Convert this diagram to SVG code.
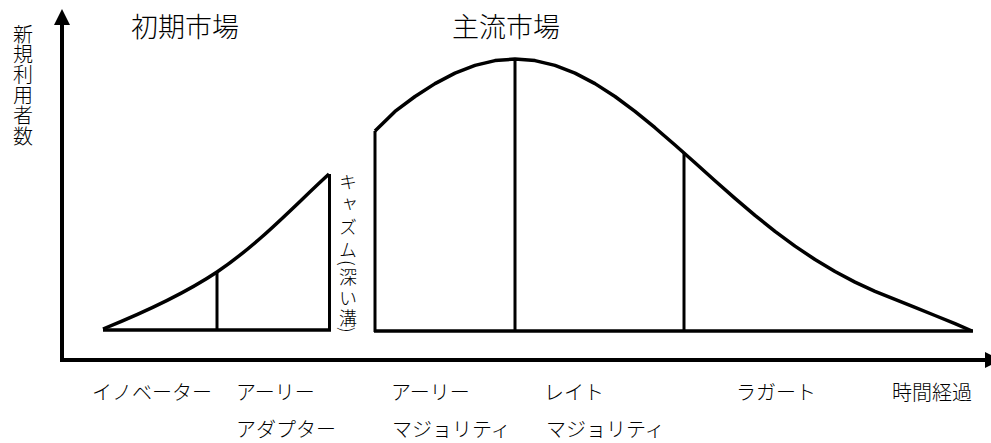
<svg xmlns="http://www.w3.org/2000/svg" width="991" height="443" viewBox="0 0 991 443">
<style>
.ln{fill:none;stroke:#000;stroke-width:3.5;stroke-linejoin:round;stroke-linecap:butt}
.vl{fill:none;stroke:#000;stroke-width:3}
.ax{fill:none;stroke:#000;stroke-width:4}
.t{font-family:"Noto Sans CJK JP","Noto Sans",sans-serif;font-size:20px;font-weight:300;fill:#000}
.h{font-family:"Noto Sans CJK JP","Noto Sans",sans-serif;font-size:27px;font-weight:300;fill:#000}
.c{font-family:"Noto Sans CJK JP","Noto Sans",sans-serif;font-size:18px;font-weight:300;fill:#000}
.v{writing-mode:tb}
</style>
<rect width="991" height="443" fill="#fff"/>
<g id="connectors">
  <line class="ax" x1="62" y1="362" x2="62" y2="23"/>
  <polygon points="62,9 54,25 70,25" fill="#000"/>
  <line class="ax" x1="60" y1="360" x2="987" y2="360"/>
  <polygon points="985,352 985,368 1001,360" fill="#000"/>
</g>
<g id="early-market">
  <path class="ln" d="M103,329 C150,310 190,290 217,272 C260,243 295,205 329,174"/>
  <line class="ln" x1="103" y1="330" x2="331" y2="330"/>
  <line class="vl" x1="217" y1="272" x2="217" y2="330"/>
  <line class="vl" x1="329.5" y1="174" x2="329.5" y2="331"/>
</g>
<g id="mainstream-market">
  <path class="ln" d="M375,131 L395,111.4 L415,96.5 L435,83.6 L455,73.1 L475,65.4 L495,60.6 L515,59 L535,60.6 L555,65.4 L575,73.1 L595,83.6 L615,96.5 L635,111.4 L655,127.7 L675,145 L695,162.8 L715,180.8 L735,198.4 L755,215.3 L775,231.3 L795,246.1 L815,259.5 L835,271.5 L855,282.1 L875,291.3 L895,299.4 L915,307.4 L935,315.5 L955,323.6 L972,331"/>
  <line class="ln" x1="374" y1="331" x2="973" y2="331"/>
  <line class="vl" x1="375" y1="131" x2="375" y2="332"/>
  <line class="vl" x1="515" y1="59" x2="515" y2="332"/>
  <line class="vl" x1="684" y1="153" x2="684" y2="332"/>
</g>
<g id="y-label">
  <text class="t v" x="23" y="24">新</text>
  <text class="t v" x="23" y="44.4">規</text>
  <text class="t v" x="23" y="64.8">利</text>
  <text class="t v" x="23" y="85.2">用</text>
  <text class="t v" x="23" y="105.6">者</text>
  <text class="t v" x="23" y="126">数</text>
</g>
<g id="title-early"><text class="h" x="131" y="37">初期市場</text></g>
<g id="title-mainstream"><text class="h" x="452" y="37">主流市場</text></g>
<g id="chasm">
  <text class="c v" x="348" y="173">キ</text>
  <text class="c v" x="348" y="195">ャ</text>
  <text class="c v" x="348" y="218">ズ</text>
  <text class="c v" x="348" y="241">ム</text>
  <text class="c v" x="348" y="260">(</text>
  <text class="c v" x="348" y="268">深</text>
  <text class="c v" x="348" y="289">い</text>
  <text class="c v" x="348" y="309">溝</text>
  <text class="c v" x="348" y="327">)</text>
</g>
<g id="innovator"><text class="t" x="92" y="400">イノベーター</text></g>
<g id="early-adopter"><text class="t" x="236" y="400">アーリー</text><text class="t" x="236" y="437">アダプター</text></g>
<g id="early-majority"><text class="t" x="391" y="400">アーリー</text><text class="t" x="392" y="437">マジョリティ</text></g>
<g id="late-majority"><text class="t" x="544" y="400">レイト</text><text class="t" x="546" y="437">マジョリティ</text></g>
<g id="laggard"><text class="t" x="736" y="400">ラガート</text></g>
<g id="time"><text class="t" x="892" y="400">時間経過</text></g>
</svg>
